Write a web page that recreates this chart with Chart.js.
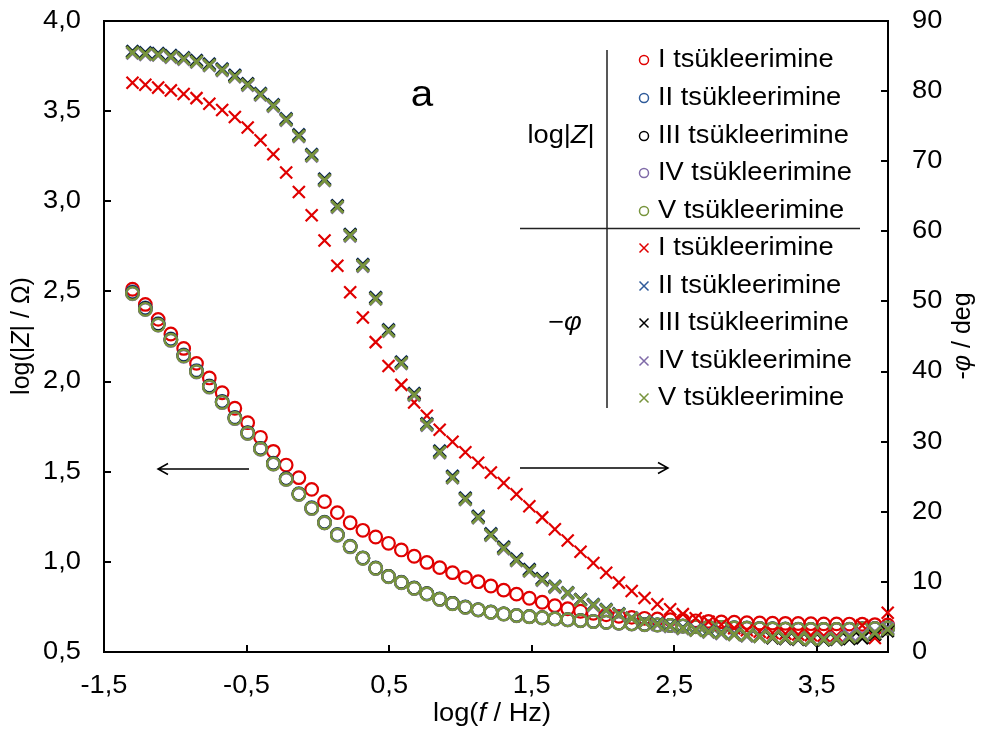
<!DOCTYPE html>
<html><head><meta charset="utf-8">
<script src="https://cdn.jsdelivr.net/npm/chart.js@4.4.1/dist/chart.umd.min.js"></script>
<style>html,body{margin:0;padding:0;background:#fff;}canvas{display:block;}</style>
</head><body>
<canvas id="c" width="981" height="731"></canvas>
<script>
// ---------- data ----------
const logF = [-1.300,-1.210,-1.120,-1.031,-0.941,-0.851,-0.761,-0.671,-0.582,-0.492,
 -0.402,-0.312,-0.222,-0.133,-0.043,0.047,0.137,0.227,0.316,0.406,
 0.496,0.586,0.676,0.765,0.855,0.945,1.035,1.125,1.214,1.304,
 1.394,1.484,1.574,1.663,1.753,1.843,1.933,2.023,2.112,2.202,
 2.292,2.382,2.472,2.561,2.651,2.741,2.831,2.921,3.010,3.100,
 3.190,3.280,3.370,3.459,3.549,3.639,3.729,3.819,3.908,3.998];

const xTicks = [-1.5,-0.5,0.5,1.5,2.5,3.5];
const yTicks = [0.5,1.0,1.5,2.0,2.5,3.0,3.5,4.0];
const y2Ticks = [0,10,20,30,40,50,60,70,80,90];
const cycleNames = ['I tsükleerimine','II tsükleerimine','III tsükleerimine','IV tsükleerimine','V tsükleerimine'];
const cycleColors = ['#E00000','#2F5B9A','#000000','#7F6AA8','#77943C'];

const logZ_I = [2.512,2.428,2.345,2.264,2.184,2.101,2.020,1.938,1.852,1.772,1.691,1.613,1.537,1.467,1.402,1.334,1.273,1.217,1.175,1.138,1.103,
 1.066,1.031,0.997,0.968,0.940,0.914,0.890,0.866,0.843,0.821,0.798,0.776,0.757,0.740,0.726,0.715,0.706,0.698,0.692,0.687,
 0.683,0.679,0.676,0.673,0.670,0.667,0.665,0.663,0.661,0.660,0.659,0.658,0.657,0.656,0.656,0.655,0.654,0.652,0.650];
const logZ_II = [2.497,2.408,2.321,2.236,2.148,2.061,1.976,1.890,1.801,1.717,1.630,1.547,1.462,1.378,1.300,1.220,1.152,1.087,1.022,0.966,0.920,
 0.887,0.855,0.824,0.794,0.770,0.750,0.735,0.722,0.712,0.703,0.697,0.691,0.685,0.680,0.675,0.670,0.666,0.661,0.657,0.653,
 0.651,0.648,0.645,0.642,0.639,0.637,0.635,0.633,0.631,0.629,0.628,0.627,0.626,0.626,0.626,0.627,0.629,0.631,0.634];
const logZ_III = [2.492,2.404,2.317,2.232,2.144,2.057,1.973,1.887,1.798,1.715,1.628,1.545,1.460,1.376,1.298,1.218,1.150,1.085,1.021,0.965,0.919,
 0.886,0.854,0.823,0.793,0.769,0.749,0.734,0.721,0.711,0.702,0.696,0.690,0.684,0.679,0.674,0.669,0.665,0.660,0.656,0.652,
 0.650,0.647,0.644,0.641,0.638,0.636,0.634,0.632,0.630,0.628,0.627,0.626,0.625,0.625,0.625,0.626,0.628,0.630,0.633];
const logZ_IV = [2.487,2.399,2.312,2.228,2.140,2.053,1.969,1.883,1.794,1.711,1.624,1.541,1.456,1.373,1.295,1.215,1.147,1.083,1.019,0.963,0.917,
 0.884,0.852,0.821,0.791,0.767,0.747,0.733,0.720,0.710,0.701,0.695,0.689,0.683,0.678,0.673,0.668,0.664,0.659,0.655,0.651,
 0.649,0.646,0.643,0.640,0.637,0.635,0.633,0.631,0.629,0.627,0.626,0.625,0.624,0.624,0.624,0.625,0.627,0.629,0.632];
const logZ_V = [2.489,2.401,2.314,2.230,2.142,2.055,1.971,1.885,1.796,1.713,1.626,1.543,1.458,1.375,1.297,1.217,1.149,1.084,1.020,0.964,0.918,
 0.885,0.853,0.822,0.792,0.768,0.748,0.734,0.721,0.711,0.702,0.696,0.690,0.684,0.679,0.674,0.669,0.665,0.660,0.656,0.652,
 0.650,0.647,0.644,0.641,0.638,0.636,0.634,0.632,0.630,0.628,0.627,0.626,0.625,0.625,0.625,0.626,0.628,0.630,0.633];

const phi_I = [81.2,80.9,80.5,80.1,79.6,79.0,78.2,77.3,76.3,74.8,73.0,
 71.0,68.4,65.6,62.3,58.7,55.1,51.3,47.7,44.2,40.8,38.1,35.6,33.7,31.7,30.0,28.5,27.0,25.6,24.1,22.5,
 20.8,19.2,17.5,15.9,14.3,12.7,11.3,9.9,8.7,7.7,6.8,6.1,5.4,4.8,4.3,3.9,3.4,3.1,2.9,2.7,
 2.6,2.5,2.4,2.3,2.3,2.3,3.8,2.0,5.6];
const phi_II = [85.7,85.5,85.4,85.1,84.8,84.4,83.9,83.2,82.3,81.1,79.7,78.1,
 76.1,73.8,71.0,67.5,63.7,59.6,55.3,50.6,46.0,41.4,36.9,32.6,28.7,25.1,22.0,19.4,16.9,15.0,13.3,11.8,
 10.5,9.4,8.5,7.5,6.8,6.1,5.5,4.9,4.4,4.1,3.8,3.5,3.2,3.0,2.8,2.6,2.4,2.3,2.1,2.0,
 1.9,1.8,1.7,1.9,2.2,2.2,2.8,3.3];
const phi_III = [85.6,85.4,85.3,85.0,84.7,84.3,83.8,83.1,82.2,81.0,79.6,78.0,
 76.0,73.7,70.9,67.4,63.6,59.5,55.2,50.5,45.9,41.3,36.8,32.5,28.6,25.0,21.9,19.3,16.8,14.9,13.2,11.7,
 10.4,9.3,8.4,7.5,6.7,6.0,5.4,4.8,4.3,4.0,3.7,3.4,3.1,2.9,2.7,2.5,2.3,2.2,2.0,1.9,
 1.8,1.7,1.7,1.8,1.9,2.0,2.5,3.0];
const phi_IV = [85.4,85.2,85.1,84.8,84.5,84.1,83.6,82.9,82.0,80.8,79.4,77.8,
 75.8,73.5,70.7,67.2,63.4,59.3,55.0,50.3,45.7,41.1,36.6,32.3,28.4,24.8,21.7,19.1,16.6,14.7,13.0,11.5,
 10.2,9.2,8.3,7.4,6.6,5.9,5.3,4.8,4.3,3.9,3.6,3.3,3.1,2.8,2.6,2.5,2.3,2.2,2.1,2.0,
 1.9,1.8,1.9,2.0,2.4,2.5,2.8,3.4];
const phi_V = [85.5,85.3,85.2,84.9,84.6,84.2,83.7,83.0,82.1,80.9,79.5,77.9,
 75.9,73.6,70.8,67.3,63.5,59.4,55.1,50.4,45.8,41.2,36.7,32.4,28.5,24.9,21.8,19.2,16.7,14.8,13.1,11.6,
 10.3,9.3,8.4,7.4,6.7,6.0,5.4,4.8,4.3,4.0,3.7,3.4,3.1,2.9,2.7,2.5,2.4,2.2,2.1,2.0,
 1.9,1.8,1.8,1.9,2.1,2.3,2.7,3.2];

// ---------- chart ----------
const FONT = '"Liberation Sans", Arial, Helvetica, sans-serif';
const FS = 25;      // font size
const SX = 1.09;    // horizontal text stretch of the original picture
const comma = (v, d) => v.toFixed(d).replace('.', ',');

const zSeries = [logZ_I, logZ_II, logZ_III, logZ_IV, logZ_V];
const pSeries = [phi_I, phi_II, phi_III, phi_IV, phi_V];
const datasets = [];
zSeries.forEach((arr, k) => datasets.push({
  label: 'log|Z| ' + cycleNames[k],
  data: arr.map((v, i) => ({x: logF[i], y: v})),
  yAxisID: 'y', showLine: false, clip: false,
  pointStyle: 'circle', pointRadius: 6.3, pointBorderWidth: 2.2,
  borderColor: cycleColors[k], pointBorderColor: cycleColors[k],
  backgroundColor: 'rgba(0,0,0,0)', pointBackgroundColor: 'rgba(0,0,0,0)',
  order: 9 - k
}));
pSeries.forEach((arr, k) => datasets.push({
  label: '-φ ' + cycleNames[k],
  data: arr.map((v, i) => ({x: logF[i], y: v})),
  yAxisID: 'y1', showLine: false, clip: false,
  pointStyle: 'crossRot', pointRadius: 8.5, pointBorderWidth: k === 0 ? 2.2 : 2.8,
  borderColor: cycleColors[k], pointBorderColor: cycleColors[k],
  backgroundColor: cycleColors[k],
  order: 4 - k
}));

function rich(ctx, parts, x, y, size, align, sx) {
  sx = sx || 1;
  let w = 0;
  parts.forEach(p => { ctx.font = (p.i ? 'italic ' : '') + size + 'px ' + FONT; w += ctx.measureText(p.t).width; });
  let start = align === 'center' ? -w / 2 : (align === 'right' ? -w : 0);
  ctx.save();
  ctx.translate(x, y); ctx.scale(sx, 1);
  ctx.textAlign = 'left';
  let cx = start;
  parts.forEach(p => { ctx.font = (p.i ? 'italic ' : '') + size + 'px ' + FONT; ctx.fillText(p.t, cx, 0); cx += ctx.measureText(p.t).width; });
  ctx.restore();
}

const framePlugin = {
  id: 'frame',
  beforeDatasetsDraw(chart) {
    const {ctx, chartArea: a, scales} = chart;
    ctx.save();
    ctx.strokeStyle = '#000'; ctx.lineWidth = 2;
    ctx.strokeRect(a.left, a.top, a.right - a.left, a.bottom - a.top);
    ctx.beginPath();
    scales.x.ticks.forEach(t => { const px = Math.round(scales.x.getPixelForValue(t.value)); ctx.moveTo(px, a.bottom); ctx.lineTo(px, a.bottom - 7); });
    scales.y.ticks.forEach(t => { const py = Math.round(scales.y.getPixelForValue(t.value)); ctx.moveTo(a.left, py); ctx.lineTo(a.left + 7, py); });
    scales.y1.ticks.forEach(t => { const py = Math.round(scales.y1.getPixelForValue(t.value)); ctx.moveTo(a.right, py); ctx.lineTo(a.right - 7, py); });
    ctx.stroke();
    ctx.restore();
  },
  afterDraw(chart) {
    const {ctx, chartArea: a, scales} = chart;
    ctx.save();
    ctx.fillStyle = '#000';
    ctx.textBaseline = 'middle';
    // tick labels from the library scales
    scales.x.ticks.forEach(t => rich(ctx, [{t: comma(t.value, 1)}], scales.x.getPixelForValue(t.value), 686, FS, 'center', SX));
    scales.y.ticks.forEach(t => rich(ctx, [{t: comma(t.value, 1)}], a.left - 23, scales.y.getPixelForValue(t.value), FS, 'right', SX));
    scales.y1.ticks.forEach(t => rich(ctx, [{t: String(t.value)}], a.right + 24, scales.y1.getPixelForValue(t.value), FS, 'left', SX));
    // axis titles
    ctx.save(); ctx.translate(22, 336); ctx.rotate(-Math.PI / 2);
    rich(ctx, [{t: 'log(|'}, {t: 'Z', i: true}, {t: '| / Ω)'}], 0, 0, FS, 'center', 1);
    ctx.restore();
    ctx.save(); ctx.translate(963, 336); ctx.rotate(-Math.PI / 2);
    rich(ctx, [{t: '-'}, {t: 'φ', i: true}, {t: ' / deg'}], 0, 0, FS, 'center', 1);
    ctx.restore();
    rich(ctx, [{t: 'log('}, {t: 'f', i: true}, {t: ' / Hz)'}], 492, 714, FS, 'center', SX);
    // panel letter
    ctx.textBaseline = 'alphabetic';
    rich(ctx, [{t: 'a'}], 422, 106, 37, 'center', SX);
    ctx.textBaseline = 'middle';
    // legend
    ctx.strokeStyle = '#222'; ctx.lineWidth = 1.5;
    ctx.beginPath();
    ctx.moveTo(607, 50); ctx.lineTo(607, 408);
    ctx.moveTo(520, 228.5); ctx.lineTo(860, 228.5);
    ctx.stroke();
    rich(ctx, [{t: 'log|'}, {t: 'Z', i: true}, {t: '|'}], 561, 136, FS, 'center', SX);
    rich(ctx, [{t: '−'}, {t: 'φ', i: true}], 565, 323, FS, 'center', SX);
    const rowsZ = [60, 98, 136, 173, 211];
    const rowsP = [248, 286, 323, 361, 398];
    ctx.lineWidth = 1.5;
    for (let k = 0; k < 5; k++) {
      ctx.strokeStyle = cycleColors[k];
      ctx.beginPath(); ctx.arc(644, rowsZ[k], 4.5, 0, Math.PI * 2); ctx.stroke();
      const y = rowsP[k], s = 4.5;
      ctx.beginPath(); ctx.moveTo(644 - s, y - s); ctx.lineTo(644 + s, y + s); ctx.moveTo(644 - s, y + s); ctx.lineTo(644 + s, y - s); ctx.stroke();
      ctx.fillStyle = '#000';
      rich(ctx, [{t: cycleNames[k]}], 658, rowsZ[k], FS, 'left', SX);
      rich(ctx, [{t: cycleNames[k]}], 658, rowsP[k], FS, 'left', SX);
    }
    // arrows
    ctx.strokeStyle = '#000'; ctx.lineWidth = 1.5;
    ctx.beginPath();
    ctx.moveTo(249, 469); ctx.lineTo(158, 469);
    ctx.moveTo(168, 463.5); ctx.lineTo(158, 469); ctx.lineTo(168, 474.5);
    ctx.moveTo(520, 468); ctx.lineTo(668, 468);
    ctx.moveTo(658, 462.5); ctx.lineTo(668, 468); ctx.lineTo(658, 473.5);
    ctx.stroke();
    ctx.restore();
  }
};

new Chart(document.getElementById('c'), {
  type: 'scatter',
  data: {datasets},
  options: {
    responsive: false, animation: false, devicePixelRatio: 1,
    layout: {padding: {top: 21, left: 0, right: 0, bottom: 0}, autoPadding: false},
    plugins: {legend: {display: false}, tooltip: {enabled: false}},
    scales: {
      x: {
        type: 'linear', position: 'bottom', min: -1.5, max: 4,
        afterBuildTicks: s => { s.ticks = xTicks.map(v => ({value: v})); },
        afterFit: s => { s.height = 79; },
        ticks: {display: false, callback: v => comma(v, 1)},
        grid: {display: false, drawTicks: false}, border: {display: false}
      },
      y: {
        type: 'linear', position: 'left', min: 0.5, max: 4,
        afterBuildTicks: s => { s.ticks = yTicks.map(v => ({value: v})); },
        afterFit: s => { s.width = 104; },
        ticks: {display: false, callback: v => comma(v, 1)},
        grid: {display: false, drawTicks: false}, border: {display: false}
      },
      y1: {
        type: 'linear', position: 'right', min: 0, max: 90,
        afterBuildTicks: s => { s.ticks = y2Ticks.map(v => ({value: v})); },
        afterFit: s => { s.width = 93; },
        ticks: {display: false, callback: v => String(v)},
        grid: {display: false, drawTicks: false}, border: {display: false}
      }
    }
  },
  plugins: [framePlugin]
});
</script>
</body></html>
